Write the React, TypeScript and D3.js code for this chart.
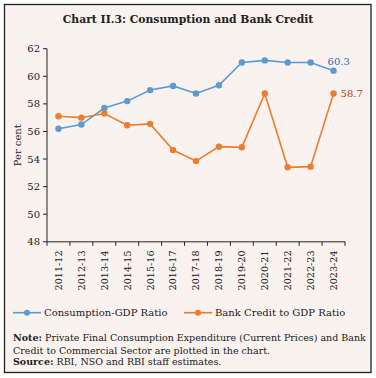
import React from "react";
import * as d3 from "d3";

const categories = ["2011-12","2012-13","2013-14","2014-15","2015-16","2016-17","2017-18","2018-19","2019-20","2020-21","2021-22","2022-23","2023-24"];
const consumption = [56.2, 56.5, 57.7, 58.2, 59.0, 59.3, 58.75, 59.35, 61.0, 61.15, 61.0, 61.0, 60.4];
const bankCredit = [57.1, 57.0, 57.3, 56.45, 56.55, 54.65, 53.85, 54.9, 54.85, 58.75, 53.4, 53.45, 58.75];
const yTicks = [48, 50, 52, 54, 56, 58, 60, 62];
const lastLabels = ["60.3", "58.7"];

const W = 376, H = 378;
const BLUE = "#5b9bd5";
const ORANGE = "#ed7d31";
const FONT = "'DejaVu Serif', serif";

export default function App() {
  const x = d3.scaleBand<string>().domain(categories).range([47, 345]);
  const y = d3.scaleLinear().domain([48, 62]).range([241.8, 48.7]);
  const cx = (c: string) => (x(c) as number) + x.bandwidth() / 2;
  const line = d3.line<number>().x((_, i) => cx(categories[i])).y((d) => y(d));
  const boundaries = categories.map((c) => x(c) as number).concat([x.range()[1]]);
  const nC = consumption.length - 1;
  return (
    <svg width={W} height={H} style={{ position: "absolute", left: 0, top: 0 }} fontFamily={FONT}>
      <rect x={4.5} y={4.5} width={366.5} height={368} fill="#f9f2ee" stroke="#222" strokeWidth={1.3} />
      <text x={188} y={23} textAnchor="middle" fontWeight="bold" fontSize={10.8} fill="#222">Chart II.3: Consumption and Bank Credit</text>
      {/* y axis */}
      <line x1={47} x2={47} y1={y(62)} y2={y(48)} stroke="#222" strokeWidth={1} />
      {yTicks.map((t) => (
        <g key={t}>
          <line x1={43} x2={47} y1={y(t)} y2={y(t)} stroke="#222" />
          <text x={40} y={y(t)} dy="0.35em" textAnchor="end" fontSize={10} fill="#222">{t}</text>
        </g>
      ))}
      <text transform={`translate(17,${(y(62) + y(48)) / 2}) rotate(-90)`} textAnchor="middle" dy="0.35em" fontSize={10} fill="#222">Per cent</text>
      {/* x axis */}
      <line x1={47} x2={345} y1={y(48)} y2={y(48)} stroke="#222" strokeWidth={1} />
      {boundaries.map((b, i) => (
        <line key={i} x1={b} x2={b} y1={y(48)} y2={y(48) + 4} stroke="#222" />
      ))}
      {categories.map((c) => (
        <text key={c} transform={`translate(${cx(c)},250.5) rotate(-90)`} textAnchor="end" dy="0.35em" fontSize={9.6} fill="#222">{c}</text>
      ))}
      {/* lines */}
      <path d={line(consumption) || ""} fill="none" stroke={BLUE} strokeWidth={1.6} />
      <path d={line(bankCredit) || ""} fill="none" stroke={ORANGE} strokeWidth={1.6} />
      {consumption.map((v, i) => (
        <circle key={"c" + i} cx={cx(categories[i])} cy={y(v)} r={3.2} fill={BLUE} />
      ))}
      {bankCredit.map((v, i) => (
        <circle key={"b" + i} cx={cx(categories[i])} cy={y(v)} r={3.2} fill={ORANGE} />
      ))}
      <text x={cx(categories[nC]) - 6} y={y(consumption[nC]) - 9} dy="0.35em" fontSize={10} fill="#2f6db5">{lastLabels[0]}</text>
      <text x={cx(categories[nC]) + 7} y={y(bankCredit[nC])} dy="0.35em" fontSize={10} fill="#c0392b">{lastLabels[1]}</text>
      {/* legend */}
      <line x1={13} x2={41} y1={312.7} y2={312.7} stroke={BLUE} strokeWidth={1.6} />
      <circle cx={27} cy={312.7} r={3} fill={BLUE} />
      <text x={44} y={312.7} dy="0.35em" fontSize={10} fill="#222">Consumption-GDP Ratio</text>
      <line x1={184} x2={212} y1={312.7} y2={312.7} stroke={ORANGE} strokeWidth={1.6} />
      <circle cx={198} cy={312.7} r={3} fill={ORANGE} />
      <text x={215} y={312.7} dy="0.35em" fontSize={10} fill="#222">Bank Credit to GDP Ratio</text>
      {/* notes */}
      <text x={13} y={340.8} fontSize={9.5} fill="#222"><tspan fontWeight="bold">Note:</tspan> Private Final Consumption Expenditure (Current Prices) and Bank</text>
      <text x={13} y={353.5} fontSize={9.5} fill="#222">Credit to Commercial Sector are plotted in the chart.</text>
      <text x={13} y={365} fontSize={9.5} fill="#222"><tspan fontWeight="bold">Source:</tspan> RBI, NSO and RBI staff estimates.</text>
    </svg>
  );
}
